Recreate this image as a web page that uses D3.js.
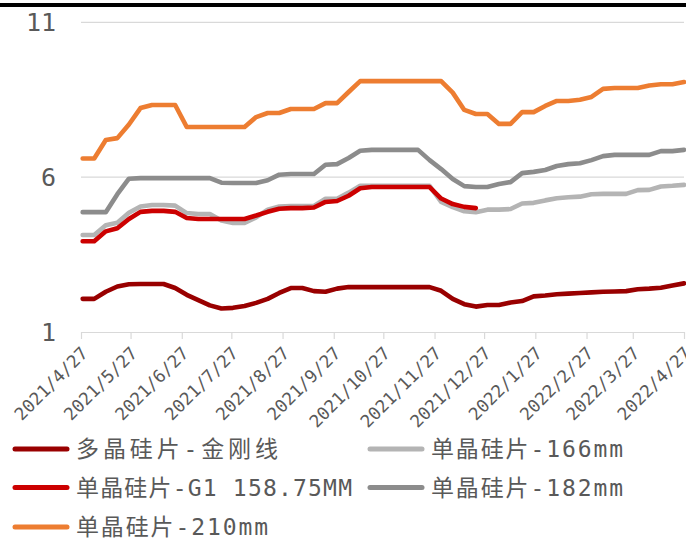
<!DOCTYPE html>
<html>
<head>
<meta charset="utf-8">
<script src="https://cdn.jsdelivr.net/npm/d3@7"></script>
<style>
  body { margin: 0; background: #fff; }
  svg { display: block; }
</style>
</head>
<body>
<div id="chart"></div>
<script>
// Weekly wafer prices (yuan/piece), 2021/4 - 2022/4

var dates = [
  "2021-04-28", "2021-05-05", "2021-05-12", "2021-05-19", "2021-05-26",
  "2021-06-02", "2021-06-09", "2021-06-16", "2021-06-23", "2021-06-30",
  "2021-07-07", "2021-07-14", "2021-07-21", "2021-07-28",
  "2021-08-04", "2021-08-11", "2021-08-18", "2021-08-25",
  "2021-09-01", "2021-09-08", "2021-09-15", "2021-09-22", "2021-09-29",
  "2021-10-06", "2021-10-13", "2021-10-20", "2021-10-27",
  "2021-11-03", "2021-11-10", "2021-11-17", "2021-11-24",
  "2021-12-01", "2021-12-08", "2021-12-15", "2021-12-22", "2021-12-29",
  "2022-01-05", "2022-01-12", "2022-01-19", "2022-01-26",
  "2022-02-02", "2022-02-09", "2022-02-16", "2022-02-23",
  "2022-03-02", "2022-03-09", "2022-03-16", "2022-03-23", "2022-03-30",
  "2022-04-06", "2022-04-13", "2022-04-20", "2022-04-27"
];

var polyDiamond = [2.07, 2.07, 2.3, 2.47, 2.54, 2.55, 2.55, 2.55, 2.42, 2.2,
  2.03, 1.86, 1.76, 1.78, 1.84, 1.94, 2.07, 2.26, 2.42, 2.42,
  2.32, 2.3, 2.4, 2.45, 2.45, 2.45, 2.45, 2.45, 2.45, 2.45,
  2.45, 2.33, 2.07, 1.9, 1.82, 1.87, 1.87, 1.95, 2.0, 2.15,
  2.18, 2.22, 2.24, 2.26, 2.28, 2.3, 2.31, 2.32, 2.38, 2.4,
  2.43, 2.5, 2.57];

var monoG1 = [3.93, 3.93, 4.25, 4.35, 4.65, 4.88, 4.91, 4.91, 4.88, 4.68,
  4.65, 4.65, 4.65, 4.65, 4.65, 4.76, 4.88, 4.98, 5.0, 5.0,
  5.02, 5.2, 5.23, 5.4, 5.64, 5.68, 5.68, 5.68, 5.68, 5.68,
  5.68, 5.31, 5.13, 5.04, 5.0];

var mono166 = [4.13, 4.13, 4.45, 4.53, 4.85, 5.05, 5.1, 5.1, 5.08, 4.84,
  4.81, 4.81, 4.6, 4.52, 4.52, 4.7, 4.95, 5.05, 5.07, 5.07,
  5.07, 5.3, 5.3, 5.5, 5.72, 5.72, 5.72, 5.72, 5.72, 5.72,
  5.72, 5.2, 5.03, 4.9, 4.87, 4.95, 4.95, 4.97, 5.15, 5.17,
  5.25, 5.32, 5.35, 5.37, 5.45, 5.46, 5.46, 5.46, 5.58, 5.59,
  5.7, 5.72, 5.75];

var mono182 = [4.87, 4.87, 4.87, 5.45, 5.95, 5.97, 5.97, 5.97, 5.97, 5.97,
  5.97, 5.97, 5.82, 5.81, 5.81, 5.81, 5.9, 6.08, 6.1, 6.1,
  6.1, 6.4, 6.42, 6.62, 6.85, 6.88, 6.88, 6.88, 6.88, 6.88,
  6.55, 6.26, 5.94, 5.71, 5.68, 5.68, 5.78, 5.84, 6.13, 6.17,
  6.23, 6.36, 6.42, 6.45, 6.55, 6.68, 6.72, 6.72, 6.72, 6.72,
  6.84, 6.84, 6.88];

var mono210 = [6.6, 6.6, 7.2, 7.26, 7.7, 8.23, 8.33, 8.33, 8.33, 7.62,
  7.62, 7.62, 7.62, 7.62, 7.62, 7.94, 8.07, 8.07, 8.2, 8.2,
  8.2, 8.39, 8.39, 8.75, 9.1, 9.1, 9.1, 9.1, 9.1, 9.1,
  9.1, 9.1, 8.73, 8.17, 8.04, 8.04, 7.72, 7.72, 8.1, 8.1,
  8.3, 8.46, 8.46, 8.5, 8.59, 8.85, 8.88, 8.88, 8.88, 8.96,
  9.0, 9.0, 9.07];

var tickDates = [
  "2021-04-27", "2021-05-27", "2021-06-27", "2021-07-27", "2021-08-27",
  "2021-09-27", "2021-10-27", "2021-11-27", "2021-12-27", "2022-01-27",
  "2022-02-27", "2022-03-27", "2022-04-27"
];
var yTicks = [1, 6, 11];

// draw order follows the legend order (row by row)
var seriesNames = ["多晶硅片-金刚线", "单晶硅片-166mm", "单晶硅片-G1 158.75MM",
  "单晶硅片-182mm", "单晶硅片-210mm"];
var seriesValues = [polyDiamond, mono166, monoG1, mono182, mono210];
var seriesColors = ["#990000", "#b4b4b4", "#cc0000", "#8c8c8c", "#ed7d31"];

// Chart setup
var svgWidth = 686;
var svgHeight = 540;
var plot = { left: 81, right: 684, top: 22.3, bottom: 332 };

var parse = d3.timeParse("%Y-%m-%d");
var fmt = d3.timeFormat("%Y/%-m/%-d");

var svg = d3.select("#chart")
  .append("svg")
  .attr("width", svgWidth)
  .attr("height", svgHeight);

// black rule across the top
svg.append("rect")
  .attr("x", 0)
  .attr("y", 3)
  .attr("width", svgWidth)
  .attr("height", 4)
  .attr("fill", "#000");

var x = d3.scaleTime()
  .domain([parse(tickDates[0]), parse(tickDates[tickDates.length - 1])])
  .range([plot.left, plot.right]);

var y = d3.scaleLinear()
  .domain([1, 11])
  .range([plot.bottom, plot.top]);

// gridlines at 6 and 11
svg.append("g")
  .selectAll("line")
  .data(yTicks.slice(1))
  .enter()
  .append("line")
  .attr("x1", plot.left)
  .attr("x2", plot.right)
  .attr("y1", d => y(d))
  .attr("y2", d => y(d))
  .attr("stroke", "#d9d9d9")
  .attr("stroke-width", 1.2);

// y labels
svg.append("g")
  .selectAll("text")
  .data(yTicks)
  .enter()
  .append("text")
  .attr("x", 56)
  .attr("y", d => y(d))
  .attr("dy", "0.36em")
  .attr("text-anchor", "end")
  .attr("fill", "#595959")
  .style("font-family", "'DejaVu Sans Mono', 'Noto Sans CJK SC', sans-serif")
  .style("font-size", "25px")
  .text(d => d);

// x axis
var xAxis = d3.axisBottom(x)
  .tickValues(tickDates.map(parse))
  .tickSize(7)
  .tickFormat(fmt);

var xg = svg.append("g")
  .attr("transform", "translate(0," + plot.bottom + ")")
  .call(xAxis);

xg.select(".domain")
  .attr("d", "M" + plot.left + ",0.5H" + plot.right)
  .attr("stroke", "#d9d9d9")
  .attr("stroke-width", 1.2);
xg.selectAll(".tick line")
  .attr("stroke", "#d9d9d9")
  .attr("stroke-width", 1.2);
// the last label runs off the right edge, as in the source chart
xg.selectAll(".tick text")
  .attr("fill", "#595959")
  .attr("text-anchor", "end")
  .attr("y", 0)
  .attr("dy", "0.35em")
  .attr("transform", "translate(3,18) rotate(-45)")
  .style("font-family", "'DejaVu Sans Mono', 'Noto Sans CJK SC', sans-serif")
  .style("font-size", "17.5px");

// lines
var line = d3.line()
  .defined(d => d.v != null)
  .x(d => x(d.date))
  .y(d => y(d.v));

seriesValues.forEach(function(vals, i) {
  var pts = vals.map((v, j) => ({ date: parse(dates[j]), v: v }));
  svg.append("path")
    .datum(pts)
    .attr("fill", "none")
    .attr("stroke", seriesColors[i])
    .attr("stroke-width", 4.6)
    .attr("stroke-linejoin", "round")
    .attr("stroke-linecap", "round")
    .attr("d", line);
});

// legend, two columns, row by row
var legendX = [13, 368];
var legendY = [449, 487.5, 527];
var legendLen = [202, 192, 276, 192, 192];

var legend = svg.append("g")
  .selectAll("g")
  .data(seriesNames)
  .enter()
  .append("g")
  .attr("transform", (d, i) => "translate(" + legendX[i % 2] + "," + legendY[Math.floor(i / 2)] + ")");

legend.append("line")
  .attr("x1", 2)
  .attr("x2", 54)
  .attr("stroke", (d, i) => seriesColors[i])
  .attr("stroke-width", 5)
  .attr("stroke-linecap", "round");

legend.append("text")
  .attr("x", 63)
  .attr("dy", "0.36em")
  .attr("fill", "#595959")
  .attr("textLength", (d, i) => legendLen[i])
  .attr("lengthAdjust", "spacing")
  .style("font-family", "'DejaVu Sans Mono', 'Noto Sans CJK SC', sans-serif")
  .style("font-size", "23px")
  .text(d => d);
</script>
</body>
</html>
